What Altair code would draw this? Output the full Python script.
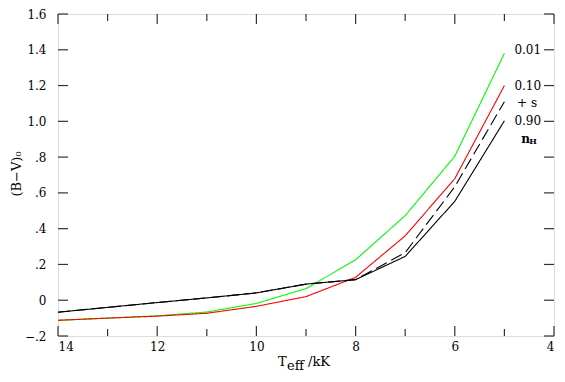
import altair as alt
import pandas as pd

# ---- data ----
T = [14, 13, 12, 11, 10, 9, 8, 7, 6, 5]
bv_001 = [-0.113, -0.100, -0.087, -0.066, -0.018, 0.065, 0.226, 0.473, 0.805, 1.380]
bv_010 = [-0.112, -0.100, -0.089, -0.073, -0.034, 0.020, 0.128, 0.360, 0.680, 1.200]
bv_090 = [-0.067, -0.040, -0.013, 0.013, 0.041, 0.090, 0.115, 0.245, 0.553, 1.003]
bv_090s = [-0.067, -0.040, -0.013, 0.013, 0.041, 0.090, 0.115, 0.266, 0.635, 1.110]

series_names = ["0.01", "0.10", "0.90", "0.90 + s"]
series_colors = ["#00ff00", "#ff0000", "#000000", "#000000"]
series_dash = [[1, 0], [1, 0], [1, 0], [12, 5]]

label_text = ["0.01", "0.10", "+ s", "0.90"]
label_x = [4.26, 4.26, 4.34, 4.26]
label_y = [1.4, 1.2, 1.1, 1.0]

nh_main = ["n"]
nh_main_x = [4.66]
nh_main_y = [0.88]
nh_sub = ["H"]
nh_sub_x = [4.50]
nh_sub_y = [0.872]

x_labels = [14, 12, 10, 8, 6, 4]
x_minor = [13, 11, 9, 7, 5]
y_ticks = [-0.2, 0.0, 0.2, 0.4, 0.6, 0.8, 1.0, 1.2, 1.4, 1.6]

W, H = 496, 322
FONT = "DejaVu Serif"
AX = "#333333"
MAJ, MIN = 10, 7

rows = []
for name, vals in zip(series_names, [bv_001, bv_010, bv_090, bv_090s]):
    for t, v in zip(T, vals):
        rows.append({"T": t, "BV": v, "series": name})
df = pd.DataFrame(rows)

lab_df = pd.DataFrame({"T": label_x, "BV": label_y, "txt": label_text})
n_df = pd.DataFrame({"T": nh_main_x, "BV": nh_main_y, "txt": nh_main})
h_df = pd.DataFrame({"T": nh_sub_x, "BV": nh_sub_y, "txt": nh_sub})
xmaj_df = pd.DataFrame({"T": x_labels})
xmin_df = pd.DataFrame({"T": x_minor})
yt_df = pd.DataFrame({"BV": y_ticks})

xs = alt.Scale(domain=[4, 14], reverse=True, nice=False, zero=False)
ys = alt.Scale(domain=[-0.2, 1.6], nice=False, zero=False)

y_label_expr = (
    "datum.value == 0 ? '0' : (abs(datum.value) < 1 ? "
    "((datum.value < 0 ? '\u2212' : '') + replace(format(abs(datum.value), '.1f'), '0.', '.')) "
    ": format(datum.value, '.1f'))"
)

lines = alt.Chart(df).mark_line(strokeWidth=1.1).encode(
    x=alt.X("T:Q", scale=xs, axis=alt.Axis(
        values=x_labels, ticks=False, tickSize=0, domain=False,
        labelFont=FONT, labelFontSize=12, labelColor="black",
        labelPadding=5, title=None, grid=False, format="d")),
    y=alt.Y("BV:Q", scale=ys, axis=alt.Axis(
        values=y_ticks, ticks=False, tickSize=0, domain=False,
        labelFont=FONT, labelFontSize=12, labelColor="black",
        labelPadding=12, labelExpr=y_label_expr, title=None, grid=False)),
    color=alt.Color("series:N", scale=alt.Scale(domain=series_names, range=series_colors), legend=None),
    strokeDash=alt.StrokeDash("series:N", scale=alt.Scale(domain=series_names, range=series_dash), legend=None),
    order=alt.Order("T:Q", sort="descending"),
)

def xrule(data, y0, y1):
    return alt.Chart(data).mark_rule(color=AX, strokeWidth=1.2).encode(
        x=alt.X("T:Q", scale=xs, axis=None), y=alt.value(y0), y2=alt.value(y1))

def yrule(x0, x1):
    return alt.Chart(yt_df).mark_rule(color=AX, strokeWidth=1.2).encode(
        y=alt.Y("BV:Q", scale=ys, axis=None), x=alt.value(x0), x2=alt.value(x1))

ticks = [
    xrule(xmaj_df, H, H - MAJ), xrule(xmin_df, H, H - MIN),
    xrule(xmaj_df, 0, MAJ), xrule(xmin_df, 0, MIN),
    yrule(0, MAJ), yrule(W, W - MAJ),
]

labels = alt.Chart(lab_df).mark_text(align="right", baseline="middle", font=FONT, fontSize=12, color="black").encode(
    x=alt.X("T:Q", scale=xs, axis=None), y=alt.Y("BV:Q", scale=ys, axis=None), text="txt:N")

n_text = alt.Chart(n_df).mark_text(align="left", baseline="alphabetic", font=FONT, fontSize=12,
                                   fontWeight="bold", color="black").encode(
    x=alt.X("T:Q", scale=xs, axis=None), y=alt.Y("BV:Q", scale=ys, axis=None), text="txt:N")

h_text = alt.Chart(h_df).mark_text(align="left", baseline="alphabetic", font=FONT, fontSize=8,
                                   fontWeight="bold", color="black").encode(
    x=alt.X("T:Q", scale=xs, axis=None), y=alt.Y("BV:Q", scale=ys, axis=None), text="txt:N")

t1 = alt.Chart(pd.DataFrame({"txt": ["T"]})).mark_text(
    align="left", baseline="alphabetic", font=FONT, fontSize=13, color="black").encode(
    x=alt.value(220), y=alt.value(352), text="txt:N")
t2 = alt.Chart(pd.DataFrame({"txt": ["eff"]})).mark_text(
    align="left", baseline="alphabetic", font=FONT, fontSize=13, color="black").encode(
    x=alt.value(229), y=alt.value(356), text="txt:N")
t3 = alt.Chart(pd.DataFrame({"txt": ["/kK"]})).mark_text(
    align="left", baseline="alphabetic", font=FONT, fontSize=13, color="black").encode(
    x=alt.value(250), y=alt.value(352), text="txt:N")
yt = alt.Chart(pd.DataFrame({"txt": ["(B\u2212V)\u2080"]})).mark_text(
    align="center", baseline="middle", font=FONT, fontSize=13, color="black", angle=270).encode(
    x=alt.value(-41), y=alt.value(160), text="txt:N")

chart = alt.layer(lines, *ticks, labels, n_text, h_text, t1, t2, t3, yt).resolve_axis(
    x="independent", y="independent"
).properties(
    width=W, height=H,
    autosize=alt.AutoSizeParams(type="none"),
    padding={"left": 50, "top": 6, "right": 3, "bottom": 38},
).configure_view(stroke=AX, strokeWidth=1.5).configure(background="white")

chart.save("out.html", embed_options={"renderer": "svg", "actions": False})
